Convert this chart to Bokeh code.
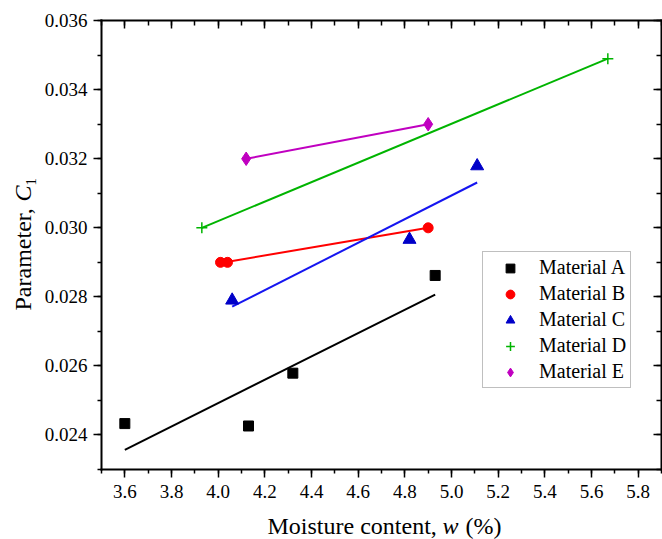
import numpy as np
from bokeh.plotting import figure
from bokeh.models import (Range1d, LinearAxis, SingleIntervalTicker, NumeralTickFormatter,
                          Legend, LegendItem, Label)
from bokeh.embed import file_html
from bokeh.resources import INLINE

# ---------------- data ----------------
series_names = ["Material A", "Material B", "Material C", "Material D", "Material E"]

a_x = [3.60, 4.13, 4.32, 4.93]
a_y = [0.02433, 0.02426, 0.02579, 0.02862]

b_x = [4.01, 4.04, 4.90]
b_y = [0.0290, 0.0290, 0.0300]

c_x = [4.06, 4.82, 5.11]
c_y = [0.02790, 0.02966, 0.03179]

d_x = [3.93, 5.67]
d_y = [0.0300, 0.0349]

e_x = [4.12, 4.90]
e_y = [0.0320, 0.0330]

x_label_parts = ["Moisture content,", "w", "(%)"]
y_label_parts = ["Parameter,", "C", "1"]

FONT = "'Liberation Serif', 'Times New Roman', serif"

W, H = 662, 539
X0, X1 = 3.5, 5.9          # axis extent (plot box)
Y0, Y1 = 0.023, 0.036005
FL, FR, FT, FB = 101, 661, 20, 469   # plot box edges in page pixels

def px2x(px):
    return X0 + (px - FL) / (FR - FL) * (X1 - X0)

def py2y(py):
    return Y0 + (FB - py) / (FB - FT) * (Y1 - Y0)

# The drawing area spans the whole canvas; axes are pinned to the plot box.
p = figure(width=W, height=H, output_backend="svg", toolbar_location=None,
           x_range=Range1d(px2x(0), px2x(W)), y_range=Range1d(py2y(H), py2y(0)),
           x_axis_location=None, y_axis_location=None, min_border=0,
           background_fill_color="white", border_fill_color="white")
p.xgrid.visible = False
p.ygrid.visible = False
p.outline_line_color = None

def make_axis(ticker, fmt, show_labels, inward, standoff, fixed, bounds):
    ax = LinearAxis(ticker=ticker, formatter=fmt, fixed_location=fixed, bounds=bounds)
    ax.axis_line_color = "black"
    ax.axis_line_width = 2
    ax.axis_line_cap = "square"
    ax.major_tick_line_color = "black"
    ax.minor_tick_line_color = "black"
    ax.major_tick_line_width = 1.5
    ax.minor_tick_line_width = 1.5
    if inward:
        ax.major_tick_in, ax.major_tick_out = 8, 0
        ax.minor_tick_in, ax.minor_tick_out = 5, 0
    else:
        ax.major_tick_in, ax.major_tick_out = 0, 8
        ax.minor_tick_in, ax.minor_tick_out = 0, 4
    ax.axis_label = None
    if show_labels:
        ax.major_label_text_font = FONT
        ax.major_label_text_font_size = "19px"
        ax.major_label_text_color = "black"
        ax.major_label_standoff = standoff
    else:
        ax.major_label_text_font_size = "0px"
        ax.major_label_text_color = None
        ax.major_label_standoff = 0
    return ax

xt = lambda: SingleIntervalTicker(interval=0.2, num_minor_ticks=2)
yt = lambda: SingleIntervalTicker(interval=0.002, num_minor_ticks=2)
xf = lambda: NumeralTickFormatter(format="0.0")
yf = lambda: NumeralTickFormatter(format="0.000")

p.add_layout(make_axis(xt(), xf(), True, False, 7, Y0, (X0, X1)), "below")
p.add_layout(make_axis(yt(), yf(), True, False, 6, X0, (Y0, Y1)), "left")
p.add_layout(make_axis(xt(), xf(), False, True, 0, Y1, (X0, X1)), "above")
p.add_layout(make_axis(yt(), yf(), False, True, 0, X1, (Y0, Y1)), "right")

# ---------------- series ----------------
specs = [
    (a_x, a_y, "square", 10, "black", "black"),
    (b_x, b_y, "circle", 10, "#FF0000", "#FF0000"),
    (c_x, c_y, "triangle", 13, "#0000C8", "#1515F0"),
    (d_x, d_y, "cross", 11, "#00B400", "#00B400"),
    (e_x, e_y, "diamond", 13.5, "#C000C0", "#C000C0"),
]

items = []
for name, (xs, ys, marker, size, mcol, lcol) in zip(series_names, specs):
    coef = np.polyfit(xs, ys, 1)
    fx = [min(xs), max(xs)]
    fy = list(np.polyval(coef, fx))
    p.line(fx, fy, line_color=lcol, line_width=2)
    if marker == "cross":
        r = p.scatter(xs, ys, marker=marker, size=size, line_color=mcol, line_width=1.5)
    else:
        r = p.scatter(xs, ys, marker=marker, size=size, fill_color=mcol, line_color=mcol)
    items.append(LegendItem(label=name, renderers=[r]))

legend = Legend(items=items, location=(482, H - 388),
                label_text_font=FONT, label_text_font_size="20px", label_text_color="black",
                glyph_width=46, glyph_height=22, label_height=22, label_standoff=6,
                spacing=3, padding=4, margin=0,
                border_line_color="#808080", border_line_width=1,
                background_fill_color="white", background_fill_alpha=1.0)
p.add_layout(legend)

# ---------------- axis titles (mixed roman / italic) ----------------
common = dict(x_units="screen", y_units="screen", text_font=FONT, text_color="black",
              text_align="left", text_baseline="alphabetic")
xb = H - 535 + 10
p.add_layout(Label(x=267, y=xb, text=x_label_parts[0], text_font_size="24px", **common))
p.add_layout(Label(x=442, y=xb, text=x_label_parts[1], text_font_size="24px",
                   text_font_style="italic", **common))
p.add_layout(Label(x=465, y=xb, text=x_label_parts[2], text_font_size="24px", **common))

p.add_layout(Label(x=22, y=H - 310, text=y_label_parts[0], angle=np.pi / 2,
                   text_font_size="24px", **common))
p.add_layout(Label(x=22, y=H - 201, text=y_label_parts[1], angle=np.pi / 2,
                   text_font_size="24px", text_font_style="italic", **common))
p.add_layout(Label(x=30, y=H - 185, text=y_label_parts[2], angle=np.pi / 2,
                   text_font_size="15px", **common))

open("out.html", "w").write(file_html(p, INLINE))
